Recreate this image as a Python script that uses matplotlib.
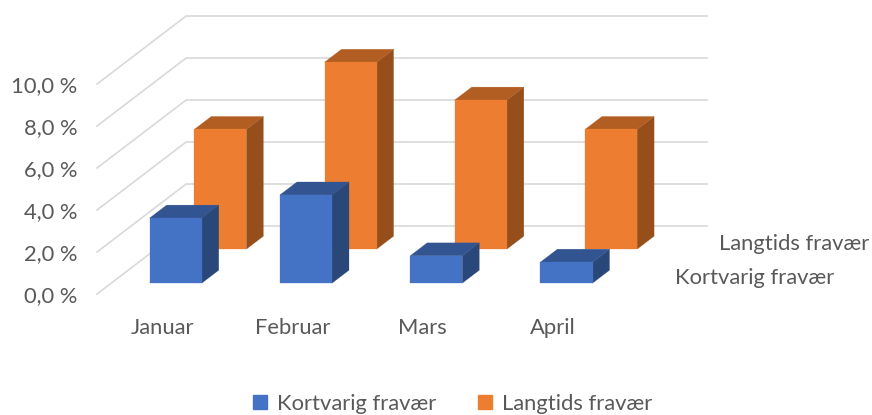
import matplotlib
matplotlib.use('Agg')
import matplotlib.pyplot as plt
from matplotlib.patches import Polygon, Patch

plt.rcParams['font.family'] = ['Lato', 'DejaVu Sans']

months = ['Januar', 'Februar', 'Mars', 'April']
kortvarig = [3.1, 4.2, 1.3, 1.0]
langtids = [5.7, 8.9, 7.1, 5.7]
y_ticks = [0, 2, 4, 6, 8, 10]
y_labels = ['0,0 %', '2,0 %', '4,0 %', '6,0 %', '8,0 %', '10,0 %']

W, H = 872, 415
TEXT = '#595959'
GRID = '#D9D9D9'
FS = 15.8

# oblique depth: how far the back wall is shifted, in data units
DEPTH_X = 89 / 130
DEPTH_Y = 68 / 21
BAR_W = 0.40
BAR_D = 0.19
BAR_SHIFT = -0.005


def project(x, v, z):
    return x + DEPTH_X * z, v + DEPTH_Y * z


def draw_bar(ax, x, v, z, front, side, top, order):
    x0, x1 = x + BAR_SHIFT - BAR_W / 2, x + BAR_SHIFT + BAR_W / 2
    z1 = z + BAR_D
    faces = [
        ([(x1, 0, z), (x1, 0, z1), (x1, v, z1), (x1, v, z)], side),
        ([(x0, v, z), (x1, v, z), (x1, v, z1), (x0, v, z1)], top),
        ([(x0, 0, z), (x1, 0, z), (x1, v, z), (x0, v, z)], front),
    ]
    for pts, col in faces:
        ax.add_patch(Polygon([project(*p) for p in pts], closed=True, facecolor=col,
                             edgecolor=col, lw=0.2, clip_on=False, zorder=order))


fig = plt.figure(figsize=(W / 100, H / 100), dpi=100)
ax = fig.add_axes([97 / W, 1 - 294 / H, 521 / W, 210 / H])
ax.set_xlim(-0.5, 3.5)
ax.set_ylim(0, 10)
for s in ax.spines.values():
    s.set_visible(False)
ax.patch.set_visible(False)

# gridlines along the side wall and the back wall
for t in y_ticks:
    xs, ys = zip(project(-0.5, t, 0), project(-0.5, t, 1), project(3.5, t, 1))
    ax.plot(xs, ys, color=GRID, lw=1.2, clip_on=False, zorder=1)

# back row first so the front row covers it
for i in range(len(months)):
    draw_bar(ax, i, langtids[i], 0.66, '#ED7D31', '#964F1B', '#B25D22', 2 + i * 0.1)
for i in range(len(months)):
    draw_bar(ax, i, kortvarig[i], 0.16, '#4472C4', '#2A4779', '#325491', 3 + i * 0.1)

ax.set_xticks(range(len(months)))
ax.set_xticklabels(months)
ax.set_yticks(y_ticks)
ax.set_yticklabels(y_labels)
ax.tick_params(axis='both', length=0, labelcolor=TEXT, labelsize=FS)
ax.tick_params(axis='x', pad=17)
ax.tick_params(axis='y', pad=14)

# series names on the depth axis
fig.text(675 / W, 1 - 278 / H, 'Kortvarig fravær', color=TEXT, fontsize=FS, ha='left', va='center')
fig.text(719 / W, 1 - 244 / H, 'Langtids fravær', color=TEXT, fontsize=FS, ha='left', va='center')

handles = [Patch(color='#4472C4'), Patch(color='#ED7D31')]
fig.legend(handles, ['Kortvarig fravær', 'Langtids fravær'], loc='center',
           bbox_to_anchor=(453 / W, 1 - 404 / H), ncol=2, frameon=False, fontsize=FS,
           labelcolor=TEXT, handlelength=0.63, handleheight=0.63, handletextpad=0.46,
           columnspacing=1.9, borderpad=0)

fig.savefig('out.png', dpi=100)
